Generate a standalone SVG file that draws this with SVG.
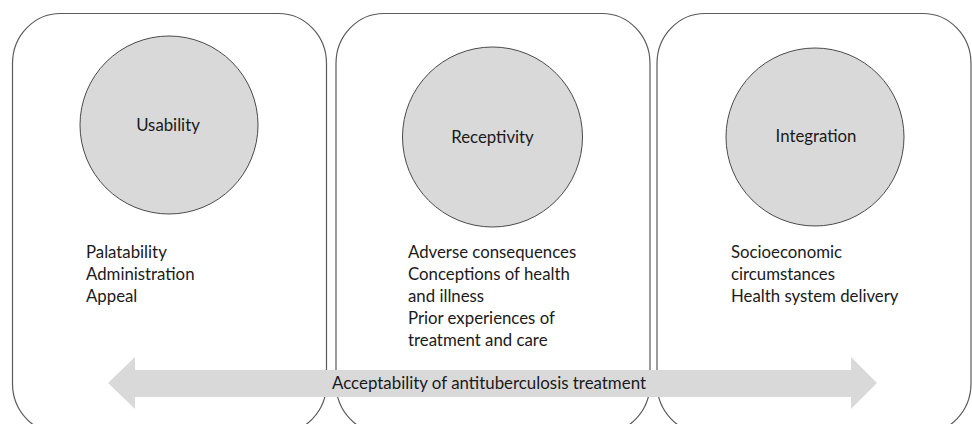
<svg xmlns="http://www.w3.org/2000/svg" width="972" height="424" viewBox="0 0 972 424">
<style>
.box{fill:#fff;stroke:#5a5a5a;stroke-width:1.2}
.circ{fill:#d9d9d9;stroke:#4a4a4a;stroke-width:1}
.t{font-family:Lato,"Open Sans","Liberation Sans",sans-serif;font-size:16.8px;fill:#1a1a1a}
.c{text-anchor:middle}
</style>
<rect width="972" height="424" fill="#fff"/>
<g id="usability">
<rect class="box" x="12.5" y="13.5" width="314" height="420" rx="48" ry="50"/>
<circle class="circ" cx="169" cy="125" r="89"/>
<text class="t c" x="168" y="131">Usability</text>
<text class="t"><tspan x="86" y="258">Palatability</tspan><tspan x="86" y="280">Administration</tspan><tspan x="86" y="302">Appeal</tspan></text>
</g>
<g id="receptivity">
<rect class="box" x="336" y="13.5" width="314" height="420" rx="48" ry="50"/>
<circle class="circ" cx="492.5" cy="137" r="90"/>
<text class="t c" x="492.5" y="143">Receptivity</text>
<text class="t"><tspan x="408" y="258">Adverse consequences</tspan><tspan x="408" y="280">Conceptions of health</tspan><tspan x="408" y="302">and illness</tspan><tspan x="408" y="324">Prior experiences of</tspan><tspan x="408" y="346">treatment and care</tspan></text>
</g>
<g id="integration">
<rect class="box" x="657" y="13.5" width="314" height="420" rx="48" ry="50"/>
<circle class="circ" cx="815" cy="137" r="89"/>
<text class="t c" x="816" y="142">Integration</text>
<text class="t"><tspan x="731" y="258">Socioeconomic</tspan><tspan x="731" y="280">circumstances</tspan><tspan x="731" y="302">Health system delivery</tspan></text>
</g>
<g id="connectors">
<polygon points="108,383 135,357 135,370 851,370 851,357 877,383 851,409 851,397 135,397 135,409" fill="#d9d9d9"/>
<text class="t c" x="489" y="389" textLength="314" lengthAdjust="spacingAndGlyphs">Acceptability of antituberculosis treatment</text>
</g>
</svg>
